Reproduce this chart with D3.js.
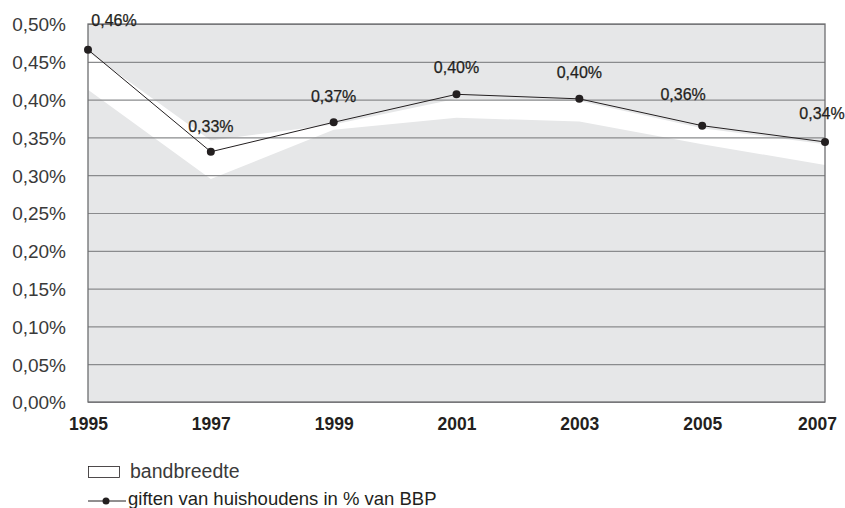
<!DOCTYPE html>
<html>
<head>
<meta charset="utf-8">
<script src="https://cdn.jsdelivr.net/npm/d3@7"></script>
<style>
  body { margin: 0; background: #fff; }
  text { font-family: "Liberation Sans", Arial, sans-serif; fill: #231f20; }
</style>
</head>
<body>
<div id="chart"></div>
<script>
// jaren en waarden (in %)
var years = [1995, 1997, 1999, 2001, 2003, 2005, 2007];
var giften = [0.466, 0.331, 0.370, 0.407, 0.401, 0.3655, 0.344];
var giftenLabels = ["0,46%", "0,33%", "0,37%", "0,40%", "0,40%", "0,36%", "0,34%"];
var bandHoog = [0.463, 0.346, 0.367, 0.401, 0.398, 0.362, 0.341];
var bandLaag = [0.413, 0.295, 0.360, 0.376, 0.371, 0.341, 0.3135];
var yTicks = [0, 0.05, 0.10, 0.15, 0.20, 0.25, 0.30, 0.35, 0.40, 0.45, 0.50];

// kleine verschuivingen voor de waardelabels (layout)
var labelNudge = [[26, -24], [0, -20], [0, -20], [0, -21], [0, -21], [-19, -26], [-3, -23]];

var w = 845, h = 508;
var margin = {top: 24, right: 20, bottom: 106, left: 88};
var width = 825 - margin.left, height = 402 - margin.top;

var svg = d3.select("#chart").append("svg")
    .attr("width", w)
    .attr("height", h);

var g = svg.append("g").attr("transform", "translate(" + margin.left + "," + margin.top + ")");

var x = d3.scaleLinear().domain([1995, 2007]).range([0, width]);
var y = d3.scaleLinear().domain([0, 0.5]).range([height, 0]);

// achtergrond
g.append("rect")
    .attr("width", width)
    .attr("height", height)
    .style("fill", "#e6e7e8");

// bandbreedte
var band = years.map(function(d, i) { return {year: d, hi: bandHoog[i], lo: bandLaag[i]}; });
var area = d3.area()
    .x(function(d) { return x(d.year); })
    .y0(function(d) { return y(d.lo); })
    .y1(function(d) { return y(d.hi); });
g.append("path")
    .datum(band)
    .attr("d", area)
    .style("fill", "#fff");

// y-as met rasterlijnen
var yAxis = g.append("g")
    .call(d3.axisLeft(y).tickValues(yTicks).tickSize(-width).tickPadding(22)
        .tickFormat(function(d) { return d3.format(".2f")(d).replace(".", ",") + "%"; }));
yAxis.select(".domain").remove();
yAxis.selectAll(".tick line")
    .style("stroke", "#8a8b8d")
    .style("stroke-width", 1.2);
yAxis.selectAll(".tick text")
    .style("font-size", "19px")
    .style("fill", "#3a3a3a")
    .attr("dy", "0.36em");

// kader
g.append("rect")
    .attr("width", width)
    .attr("height", height)
    .style("fill", "none")
    .style("stroke", "#6d6e70")
    .style("stroke-width", 1.3);

// x-as
var xAxis = g.append("g")
    .attr("transform", "translate(0," + height + ")")
    .call(d3.axisBottom(x).tickValues(years).tickSize(0).tickPadding(28).tickFormat(d3.format("d")));
xAxis.select(".domain").remove();
xAxis.selectAll(".tick text")
    .style("font-size", "17.5px")
    .style("font-weight", "bold")
    .attr("dy", 0)
    .attr("dx", function(d) { return d === 2007 ? -8 : 0; });

// lijn met punten
var pts = years.map(function(d, i) { return {year: d, v: giften[i], label: giftenLabels[i], i: i}; });
var line = d3.line()
    .x(function(d) { return x(d.year); })
    .y(function(d) { return y(d.v); });
g.append("path")
    .datum(pts)
    .attr("d", line)
    .style("fill", "none")
    .style("stroke", "#231f20")
    .style("stroke-width", 1);

g.selectAll(".dot")
    .data(pts)
    .enter().append("circle")
    .attr("class", "dot")
    .attr("cx", function(d) { return x(d.year); })
    .attr("cy", function(d) { return y(d.v); })
    .attr("r", 4)
    .style("fill", "#231f20");

g.selectAll(".vlabel")
    .data(pts)
    .enter().append("text")
    .attr("class", "vlabel")
    .attr("x", function(d) { return x(d.year) + labelNudge[d.i][0]; })
    .attr("y", function(d) { return y(d.v) + labelNudge[d.i][1]; })
    .attr("text-anchor", "middle")
    .style("font-size", "16px")
    .style("stroke", "#231f20")
    .style("stroke-width", 0.25)
    .text(function(d) { return d.label; });

// legenda
var leg = svg.append("g");
leg.append("rect")
    .attr("x", 88.5).attr("y", 466.5)
    .attr("width", 31).attr("height", 11)
    .style("fill", "#fff")
    .style("stroke", "#231f20")
    .style("stroke-width", 0.8);
leg.append("text")
    .attr("x", 130).attr("y", 478)
    .style("font-size", "19.5px")
    .style("fill", "#3a3a3a")
    .text("bandbreedte");
leg.append("line")
    .attr("x1", 88).attr("x2", 126)
    .attr("y1", 501).attr("y2", 501)
    .style("stroke", "#231f20");
leg.append("circle")
    .attr("cx", 106).attr("cy", 501).attr("r", 3.5)
    .style("fill", "#231f20");
leg.append("text")
    .attr("x", 128).attr("y", 505)
    .style("font-size", "18.5px")
    .text("giften van huishoudens in % van BBP");
</script>
</body>
</html>
